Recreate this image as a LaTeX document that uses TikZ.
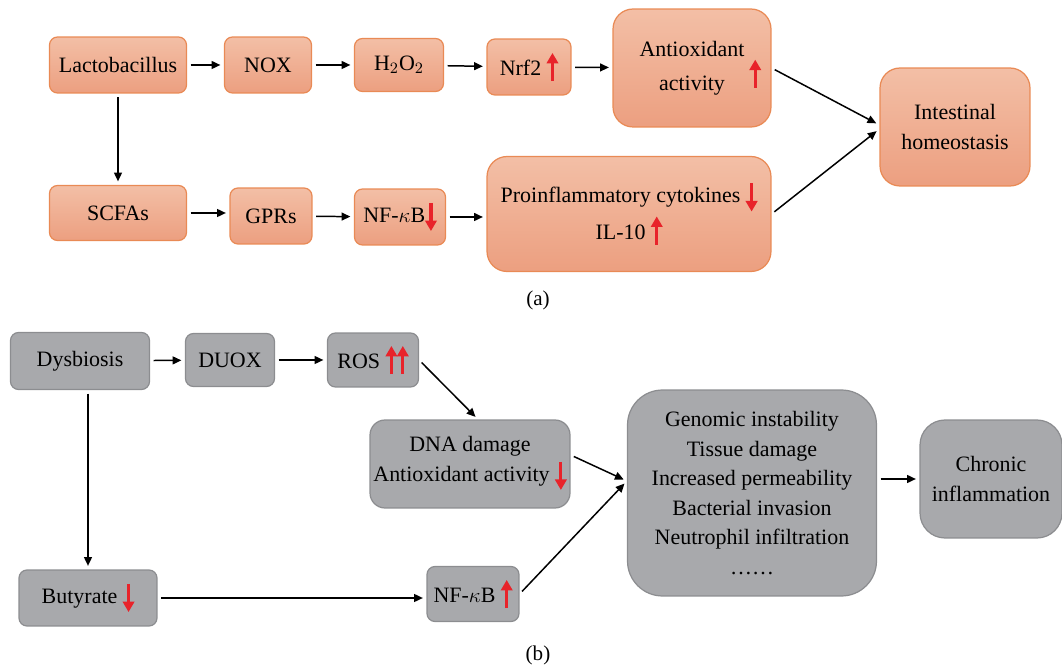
\documentclass[tikz,border=0pt]{standalone}
\usepackage{fontspec}
\setmainfont{Liberation Serif}
\usetikzlibrary{arrows.meta}
\usetikzlibrary{shapes}

\definecolor{orangetop}{HTML}{F3BFA6}
\definecolor{orangebot}{HTML}{EC9F80}
\definecolor{orangeline}{HTML}{E98A55}
\definecolor{grayfill}{HTML}{A8A9AC}
\definecolor{grayline}{HTML}{8C8D90}
\definecolor{redarrow}{HTML}{E8232A}

\newsavebox{\upbox}
\newsavebox{\downbox}
\newcommand{\upar}{\usebox{\upbox}}
\newcommand{\downar}{\usebox{\downbox}}
% red trend arrow, drawn once into a box
\newcommand{\trendarrow}[2]{%
  \begin{pgfpicture}
    \pgfsetbaseline{0pt}
    \pgfsetstrokecolor{redarrow}
    \pgfsetlinewidth{1.8pt}
    \pgfsetarrowsend{Triangle[length=6pt,width=6.5pt]}
    \pgfpathmoveto{\pgfpoint{0pt}{#1}}
    \pgfpathlineto{\pgfpoint{0pt}{#2}}
    \pgfusepath{stroke}
  \end{pgfpicture}}

\tikzset{
        boxnode/.style={align=center,inner sep=0pt,line width=0.7pt,
            font=\fontsize{12.5}{16.8}\selectfont},
        % Orange boxes, part (a)
        box_orange/.style={boxnode, draw=orangeline, top color=orangetop, bottom color=orangebot, rounded corners=0.16cm},
        box_orange_big/.style={box_orange, rounded corners=0.4cm},
        % Gray boxes, part (b)
        box_gray/.style={boxnode, draw=grayline, fill=grayfill, rounded corners=0.16cm},
        % Flow arrows
        arrow_flow/.style={-{Triangle[length=5pt,width=4.5pt]}, line width=0.85pt, shorten >=2pt, shorten <=2pt},
        % Panel labels
        panel_label/.style={font=\fontsize{12}{14}\selectfont}
}

\begin{document}
\sbox{\upbox}{\trendarrow{-3pt}{13pt}}
\sbox{\downbox}{\trendarrow{11pt}{-5pt}}
\begin{tikzpicture}[x=0.02cm, y=-0.02cm]
    \useasboundingbox (0,0) rectangle (1062,665);

    % (a)
    \node[box_orange, minimum width=2.74cm, minimum height=1.12cm] (lacto) at (118,65) {Lactobacillus};
    \node[box_orange, minimum width=1.74cm, minimum height=1.12cm] (nox) at (268,65) {NOX};
    \node[box_orange, minimum width=1.78cm, minimum height=1.06cm] (hoo) at (399,65) {H$_2$O$_2$};
    \node[box_orange, minimum width=1.68cm, minimum height=1.12cm] (nrf) at (529,67) {Nrf2 \upar};
    \node[box_orange_big, minimum width=3.16cm, minimum height=2.36cm] (antiox) at (692,68)
        {Antioxidant\\activity\rlap{\hspace{14pt}\raisebox{4.5pt}{\upar}}};
    \node[box_orange_big, minimum width=3.0cm, minimum height=2.36cm] (homeo) at (955,127) {Intestinal\\homeostasis};
    \node[box_orange, minimum width=2.74cm, minimum height=1.1cm] (scfa) at (118,213) {SCFAs};
    \node[box_orange, minimum width=1.64cm, minimum height=1.12cm] (gpr) at (271,216) {GPRs};
    \node[box_orange, minimum width=1.82cm, minimum height=1.12cm] (nfa) at (400,217) {NF-$\kappa$B\downar};
    \node[box_orange_big, minimum width=5.68cm, minimum height=2.3cm] (proinf) at (629,214)
        {Proinflammatory cytokines \downar\\IL-10 \upar};
    \node[panel_label] (lbla) at (538,300) {(a)};

    \draw[arrow_flow] (lacto) -- (nox);
    \draw[arrow_flow] (nox) -- (hoo);
    \draw[arrow_flow] (hoo) -- (nrf);
    \draw[arrow_flow] (nrf) -- (antiox);
    \draw[arrow_flow] (antiox.east) -- ([yshift=0.04cm]homeo.west);
    \draw[arrow_flow] (proinf.east) -- ([yshift=-0.04cm]homeo.west);
    \draw[arrow_flow] (lacto) -- (scfa);
    \draw[arrow_flow] (scfa.east) -- (scfa.east -| gpr.west);
    \draw[arrow_flow] (gpr) -- (nfa);
    \draw[arrow_flow] (nfa) -- (nfa -| proinf.west);

    % (b)
    \node[box_gray, minimum width=2.78cm, minimum height=1.14cm] (dys) at (80,361) {Dysbiosis};
    \node[box_gray, minimum width=1.78cm, minimum height=1.06cm] (duox) at (230,360) {DUOX};
    \node[box_gray, minimum width=1.82cm, minimum height=1.08cm] (ros) at (373,360) {ROS \upar\upar};
    \node[box_gray, rounded corners=0.3cm, minimum width=4.0cm, minimum height=1.76cm] (dna) at (470,464)
        {DNA damage\\Antioxidant activity \downar};
    \node[box_gray, rounded corners=0.7cm, minimum width=4.98cm, minimum height=4.12cm] (harm) at (752,493)
        {Genomic instability\\Tissue damage\\Increased permeability\\Bacterial invasion\\Neutrophil infiltration\\……};
    \node[box_gray, rounded corners=0.5cm, minimum width=2.84cm, minimum height=2.36cm] (chronic) at (991,479)
        {Chronic\\inflammation};
    \node[box_gray, minimum width=2.76cm, minimum height=1.12cm] (buty) at (88,598) {Butyrate \downar};
    \node[box_gray, minimum width=1.84cm, minimum height=1.1cm] (nfb) at (473,594) {NF-$\kappa$B \upar};
    \node[panel_label] (lblb) at (538,655) {(b)};

    \coordinate (harmin) at ([yshift=0.24cm]harm.west);

    \draw[arrow_flow] (dys) -- (duox);
    \draw[arrow_flow] (duox) -- (ros);
    \draw[arrow_flow] (ros.east) -- ([xshift=0.16cm]dna.north);
    \draw[arrow_flow] ([yshift=0.18cm]dna.east) -- (harmin);
    \draw[arrow_flow] (nfb.east) -- (harmin);
    \draw[arrow_flow] (chronic.west -| harm.east) -- (chronic.west);
    \draw[arrow_flow] (buty.north |- dys.south) -- (buty.north);
    \draw[arrow_flow] (buty.east) -- (buty.east -| nfb.west);
\end{tikzpicture}
\end{document}
